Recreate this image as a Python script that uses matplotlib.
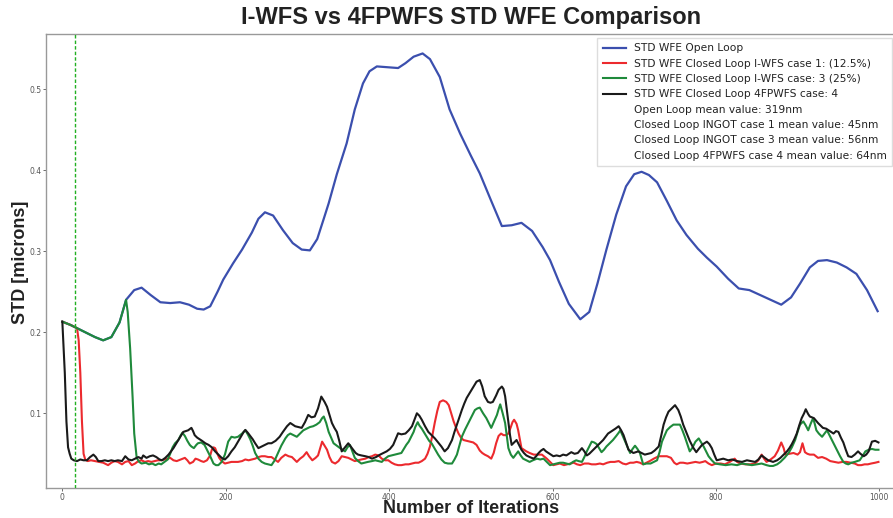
import matplotlib
matplotlib.use('Agg')
import matplotlib.pyplot as plt
import numpy as np

# open loop (smooth)
ol_x = [0, 10, 20, 30, 40, 50, 60, 70, 78, 88, 97, 108, 120, 132, 144, 155, 165, 173, 181, 190,
        197, 209, 220, 232, 240, 248, 258, 270, 282, 293, 303, 312, 320, 326, 336, 348, 358, 368,
        376, 385, 398, 411, 420, 430, 441, 450, 462, 474, 487, 500, 511, 525, 538, 550, 562, 575,
        588, 597, 608, 620, 634, 645, 655, 666, 678, 690, 700, 709, 718, 728, 740, 752, 764, 778,
        789, 801, 815, 828, 841, 854, 867, 880, 892, 903, 915, 925, 936, 948, 960, 972, 985, 998]
ol_y = [0.213, 0.209, 0.204, 0.199, 0.194, 0.190, 0.194, 0.212, 0.240, 0.252, 0.255, 0.246, 0.237,
        0.236, 0.237, 0.234, 0.229, 0.228, 0.232, 0.250, 0.265, 0.285, 0.302, 0.323, 0.340, 0.348,
        0.344, 0.326, 0.310, 0.302, 0.301, 0.315, 0.340, 0.359, 0.395, 0.433, 0.475, 0.507, 0.522,
        0.528, 0.527, 0.526, 0.532, 0.540, 0.544, 0.537, 0.515, 0.475, 0.445, 0.418, 0.396, 0.362,
        0.331, 0.332, 0.335, 0.325, 0.305, 0.289, 0.262, 0.235, 0.216, 0.225, 0.260, 0.302, 0.345,
        0.380, 0.395, 0.398, 0.394, 0.385, 0.362, 0.338, 0.320, 0.303, 0.292, 0.281, 0.266, 0.254,
        0.252, 0.246, 0.240, 0.234, 0.243, 0.260, 0.280, 0.288, 0.289, 0.286, 0.280, 0.272, 0.252,
        0.226]

# closed loop I-WFS case 1 (12.5%)
c1_x = [0, 10, 18, 20, 22, 24, 26, 28, 31, 35, 40, 45, 50, 54, 56, 60, 64, 68, 73, 77, 81, 85, 89,
        93, 97, 101, 105, 109, 113, 117, 121, 125, 129, 132, 136, 140, 145, 150, 153, 156, 160, 163,
        166, 170, 173, 177, 181, 183, 185, 187, 189, 192, 195, 199, 203, 207, 211, 215, 220, 224,
        228, 232, 236, 240, 244, 248, 252, 256, 260, 264, 268, 273, 277, 281, 284, 287, 291, 295,
        299, 302, 306, 310, 313, 316, 318, 321, 324, 327, 330, 334, 338, 342, 346, 350, 354, 358,
        362, 366, 371, 375, 379, 383, 387, 391, 395, 399, 403, 407, 411, 415, 420, 424, 428, 432,
        436, 440, 444, 447, 450, 453, 456, 459, 462, 466, 470, 473, 476, 479, 482, 485, 488, 491,
        495, 499, 503, 507, 511, 514, 517, 521, 525, 528, 531, 534, 537, 540, 543, 546, 549, 551,
        553, 556, 558, 560, 562, 565, 568, 572, 577, 582, 587, 593, 597, 601, 605, 609, 614, 618,
        622, 626, 630, 634, 639, 644, 648, 653, 658, 662, 667, 671, 676, 681, 686, 690, 695, 699,
        703, 707, 711, 715, 719, 724, 730, 735, 740, 745, 749, 752, 756, 760, 765, 770, 775, 780,
        784, 787, 791, 795, 800, 806, 811, 817, 823, 826, 830, 836, 842, 848, 852, 856, 859, 862,
        867, 872, 876, 880, 883, 885, 890, 895, 900, 903, 906, 909, 912, 915, 920, 925, 930, 935,
        940, 945, 950, 955, 960, 965, 970, 974, 978, 982, 986, 990, 995, 999]
c1_y = [0.213, 0.209, 0.205, 0.190, 0.150, 0.090, 0.050, 0.043, 0.041, 0.042, 0.041, 0.040, 0.039,
        0.037, 0.036, 0.039, 0.041, 0.040, 0.037, 0.040, 0.041, 0.036, 0.038, 0.041, 0.042, 0.040,
        0.041, 0.040, 0.041, 0.042, 0.042, 0.043, 0.044, 0.045, 0.042, 0.041, 0.043, 0.045, 0.042,
        0.038, 0.040, 0.044, 0.043, 0.041, 0.040, 0.042, 0.048, 0.055, 0.058, 0.057, 0.052, 0.045,
        0.041, 0.038, 0.039, 0.040, 0.040, 0.040, 0.041, 0.043, 0.042, 0.043, 0.044, 0.046, 0.047,
        0.047, 0.046, 0.046, 0.043, 0.040, 0.045, 0.049, 0.047, 0.046, 0.043, 0.040, 0.044, 0.047,
        0.052, 0.047, 0.042, 0.045, 0.048, 0.058, 0.065, 0.060, 0.055, 0.046, 0.040, 0.038, 0.041,
        0.047, 0.046, 0.045, 0.043, 0.041, 0.042, 0.043, 0.044, 0.046, 0.047, 0.049, 0.048, 0.044,
        0.042, 0.042, 0.039, 0.037, 0.036, 0.036, 0.037, 0.037, 0.038, 0.039, 0.039, 0.041, 0.044,
        0.050, 0.059, 0.073, 0.089, 0.103, 0.114, 0.116, 0.114, 0.110, 0.100, 0.090, 0.082, 0.075,
        0.070, 0.067, 0.066, 0.065, 0.064, 0.061, 0.054, 0.051, 0.049, 0.047, 0.044, 0.051, 0.063,
        0.072, 0.075, 0.073, 0.073, 0.075, 0.083, 0.089, 0.092, 0.087, 0.079, 0.068, 0.057, 0.055,
        0.053, 0.051, 0.049, 0.049, 0.049, 0.044, 0.040, 0.036, 0.037, 0.038, 0.036, 0.037, 0.038,
        0.039, 0.037, 0.036, 0.038, 0.038, 0.037, 0.037, 0.038, 0.037, 0.039, 0.040, 0.040, 0.041,
        0.038, 0.037, 0.039, 0.039, 0.040, 0.039, 0.037, 0.039, 0.041, 0.044, 0.047, 0.047, 0.047,
        0.045, 0.039, 0.037, 0.039, 0.039, 0.038, 0.039, 0.040, 0.039, 0.040, 0.041, 0.038, 0.036,
        0.038, 0.038, 0.037, 0.040, 0.044, 0.040, 0.038, 0.037, 0.037, 0.038, 0.042, 0.049, 0.044,
        0.040, 0.043, 0.047, 0.054, 0.064, 0.057, 0.049, 0.050, 0.051, 0.049, 0.052, 0.063, 0.052,
        0.050, 0.049, 0.049, 0.045, 0.046, 0.044, 0.041, 0.040, 0.039, 0.040, 0.040, 0.039, 0.038,
        0.036, 0.036, 0.037, 0.037, 0.038, 0.039, 0.040]

# closed loop I-WFS case 3 (25%)
c3_x = [0, 10, 20, 30, 40, 50, 60, 70, 78, 80, 83, 86, 88, 91, 94, 97, 102, 106, 110, 114, 118,
        121, 125, 129, 132, 135, 138, 142, 145, 147, 150, 153, 156, 158, 161, 164, 166, 170, 174,
        177, 181, 185, 188, 191, 195, 199, 203, 207, 211, 215, 220, 224, 227, 230, 233, 236, 240,
        244, 248, 252, 256, 260, 264, 268, 273, 276, 279, 283, 287, 291, 295, 299, 303, 307, 311,
        315, 318, 320, 323, 326, 329, 332, 336, 340, 343, 346, 349, 352, 355, 358, 362, 366, 370,
        374, 379, 383, 387, 391, 395, 399, 403, 407, 411, 415, 418, 421, 424, 427, 430, 432, 435,
        437, 440, 443, 446, 449, 452, 456, 460, 464, 468, 472, 477, 480, 483, 486, 489, 493, 497,
        501, 505, 508, 511, 515, 519, 522, 525, 528, 532, 534, 536, 539, 542, 544, 546, 549, 552,
        555, 558, 561, 564, 568, 572, 576, 581, 585, 589, 593, 597, 601, 605, 609, 613, 617, 621,
        625, 629, 632, 636, 639, 642, 645, 648, 651, 654, 657, 660, 663, 666, 670, 674, 678, 681,
        683, 686, 689, 692, 695, 698, 701, 704, 707, 709, 711, 715, 720, 724, 728, 731, 734, 737,
        740, 744, 748, 752, 756, 759, 762, 765, 768, 771, 775, 779, 782, 785, 788, 791, 795, 799,
        805, 812, 819, 826, 832, 838, 844, 850, 856, 862, 866, 870, 875, 879, 884, 889, 893, 897,
        900, 903, 907, 910, 913, 916, 919, 921, 923, 926, 930, 933, 936, 939, 942, 945, 948, 952,
        956, 959, 962, 966, 970, 973, 976, 980, 983, 987, 991, 995, 999]
c3_y = [0.213, 0.209, 0.204, 0.199, 0.194, 0.190, 0.194, 0.212, 0.240, 0.225, 0.180, 0.120, 0.075,
        0.045, 0.040, 0.038, 0.039, 0.037, 0.038, 0.036, 0.038, 0.037, 0.040, 0.043, 0.050, 0.058,
        0.063, 0.067, 0.073, 0.076, 0.072, 0.066, 0.061, 0.059, 0.057, 0.061, 0.063, 0.064, 0.061,
        0.055, 0.047, 0.038, 0.036, 0.036, 0.040, 0.049, 0.065, 0.071, 0.070, 0.071, 0.075, 0.079,
        0.074, 0.068, 0.060, 0.051, 0.044, 0.040, 0.038, 0.037, 0.036, 0.042, 0.051, 0.060, 0.069,
        0.073, 0.075, 0.073, 0.071, 0.075, 0.079, 0.081, 0.083, 0.084, 0.086, 0.089, 0.094, 0.096,
        0.088, 0.077, 0.070, 0.063, 0.060, 0.057, 0.055, 0.053, 0.058, 0.061, 0.053, 0.045, 0.041,
        0.038, 0.039, 0.040, 0.041, 0.042, 0.041, 0.040, 0.044, 0.047, 0.048, 0.049, 0.050, 0.051,
        0.056, 0.061, 0.065, 0.071, 0.077, 0.083, 0.089, 0.085, 0.081, 0.076, 0.071, 0.066, 0.063,
        0.056, 0.049, 0.043, 0.039, 0.038, 0.038, 0.043, 0.049, 0.060, 0.071, 0.080, 0.088, 0.096,
        0.104, 0.106, 0.107, 0.100, 0.094, 0.088, 0.082, 0.089, 0.098, 0.105, 0.111, 0.100, 0.088,
        0.072, 0.057, 0.049, 0.045, 0.049, 0.053, 0.048, 0.044, 0.042, 0.040, 0.042, 0.044, 0.043,
        0.044, 0.040, 0.036, 0.037, 0.038, 0.039, 0.039, 0.038, 0.037, 0.040, 0.042, 0.041, 0.040,
        0.046, 0.053, 0.059, 0.065, 0.064, 0.062, 0.057, 0.052, 0.055, 0.059, 0.063, 0.067, 0.072,
        0.076, 0.079, 0.072, 0.065, 0.058, 0.051, 0.056, 0.060, 0.056, 0.051, 0.044, 0.037, 0.038,
        0.038, 0.040, 0.042, 0.052, 0.065, 0.072, 0.079, 0.083, 0.086, 0.086, 0.086, 0.079, 0.071,
        0.062, 0.053, 0.057, 0.065, 0.069, 0.064, 0.059, 0.053, 0.047, 0.042, 0.038, 0.037, 0.036,
        0.037, 0.036, 0.038, 0.037, 0.036, 0.037, 0.038, 0.036, 0.035, 0.035, 0.037, 0.040, 0.045,
        0.051, 0.058, 0.067, 0.077, 0.086, 0.090, 0.085, 0.079, 0.087, 0.094, 0.087, 0.079, 0.075,
        0.071, 0.075, 0.079, 0.073, 0.067, 0.061, 0.055, 0.047, 0.040, 0.038, 0.037, 0.039, 0.040,
        0.041, 0.042, 0.048, 0.053, 0.055, 0.056, 0.055, 0.055]

# closed loop 4FPWFS case 4
c4_x = [0, 3, 5, 7, 9, 11, 14, 18, 22, 26, 30, 34, 38, 41, 44, 48, 52, 56, 60, 64, 68, 73, 77, 81,
        85, 89, 93, 97, 99, 103, 107, 111, 115, 119, 122, 126, 130, 133, 136, 139, 142, 145, 148,
        151, 154, 158, 160, 162, 165, 168, 171, 175, 179, 183, 187, 191, 195, 199, 203, 207, 211,
        215, 219, 222, 224, 227, 230, 233, 236, 240, 244, 248, 252, 256, 261, 266, 270, 275, 279,
        282, 285, 289, 293, 297, 301, 305, 309, 313, 317, 321, 324, 327, 330, 333, 336, 339, 342,
        346, 350, 353, 356, 359, 362, 366, 371, 375, 379, 384, 389, 393, 397, 401, 405, 408, 411,
        415, 420, 424, 428, 431, 434, 437, 440, 444, 448, 452, 456, 460, 464, 468, 472, 477, 480,
        483, 486, 489, 492, 495, 498, 501, 504, 507, 511, 514, 517, 521, 524, 527, 531, 534, 538,
        540, 542, 544, 546, 548, 550, 553, 556, 559, 562, 565, 568, 572, 577, 580, 583, 586, 589,
        592, 595, 598, 601, 605, 609, 613, 617, 620, 623, 627, 631, 636, 639, 642, 645, 648, 652,
        656, 659, 662, 665, 668, 671, 674, 677, 681, 684, 687, 690, 693, 696, 699, 702, 705, 709,
        713, 717, 721, 725, 730, 733, 736, 739, 742, 746, 750, 754, 757, 760, 764, 768, 772, 776,
        779, 783, 786, 789, 792, 795, 798, 801, 805, 809, 815, 820, 826, 832, 838, 843, 848, 852,
        856, 860, 864, 870, 875, 879, 883, 887, 890, 893, 896, 899, 902, 905, 908, 910, 913, 915,
        920, 925, 928, 931, 935, 938, 941, 944, 947, 950, 953, 956, 959, 962, 966, 970, 974, 977,
        981, 984, 987, 989, 991, 995, 999]
c4_y = [0.213, 0.150, 0.090, 0.058, 0.050, 0.044, 0.042, 0.041, 0.043, 0.042, 0.042, 0.046, 0.049,
        0.046, 0.041, 0.041, 0.042, 0.041, 0.042, 0.041, 0.042, 0.041, 0.047, 0.043, 0.042, 0.044,
        0.046, 0.044, 0.048, 0.045, 0.047, 0.048, 0.046, 0.043, 0.042, 0.045, 0.049, 0.053, 0.057,
        0.062, 0.067, 0.072, 0.077, 0.078, 0.079, 0.082, 0.078, 0.073, 0.070, 0.068, 0.066, 0.063,
        0.061, 0.058, 0.053, 0.049, 0.045, 0.043, 0.047, 0.053, 0.058, 0.065, 0.072, 0.077, 0.0795,
        0.076, 0.072, 0.068, 0.063, 0.057, 0.059, 0.061, 0.063, 0.063, 0.066, 0.071, 0.077, 0.084,
        0.088, 0.086, 0.084, 0.083, 0.082, 0.089, 0.098, 0.095, 0.096, 0.106, 0.1206, 0.114, 0.108,
        0.098, 0.088, 0.082, 0.077, 0.066, 0.053, 0.058, 0.063, 0.059, 0.055, 0.051, 0.049, 0.048,
        0.047, 0.046, 0.044, 0.046, 0.049, 0.051, 0.053, 0.056, 0.061, 0.068, 0.0753, 0.074, 0.075,
        0.079, 0.084, 0.092, 0.100, 0.097, 0.092, 0.084, 0.077, 0.073, 0.069, 0.064, 0.059, 0.053,
        0.057, 0.067, 0.077, 0.086, 0.095, 0.104, 0.112, 0.119, 0.124, 0.129, 0.134, 0.139, 0.141,
        0.133, 0.121, 0.114, 0.113, 0.114, 0.122, 0.129, 0.133, 0.130, 0.121, 0.105, 0.088, 0.073,
        0.061, 0.064, 0.067, 0.061, 0.055, 0.051, 0.048, 0.046, 0.044, 0.047, 0.051, 0.054, 0.056,
        0.053, 0.051, 0.049, 0.047, 0.048, 0.047, 0.049, 0.048, 0.050, 0.052, 0.050, 0.051, 0.057,
        0.053, 0.048, 0.050, 0.053, 0.057, 0.061, 0.064, 0.067, 0.071, 0.075, 0.077, 0.079, 0.081,
        0.084, 0.079, 0.073, 0.064, 0.055, 0.053, 0.051, 0.052, 0.053, 0.051, 0.049, 0.050, 0.051,
        0.054, 0.059, 0.072, 0.086, 0.095, 0.102, 0.106, 0.110, 0.104, 0.096, 0.086, 0.076, 0.066,
        0.058, 0.052, 0.056, 0.061, 0.063, 0.065, 0.062, 0.057, 0.049, 0.042, 0.043, 0.044, 0.042,
        0.043, 0.041, 0.040, 0.042, 0.041, 0.040, 0.043, 0.048, 0.045, 0.042, 0.040, 0.042, 0.045,
        0.049, 0.053, 0.057, 0.062, 0.068, 0.075, 0.085, 0.094, 0.100, 0.105, 0.099, 0.096, 0.094,
        0.088, 0.085, 0.082, 0.081, 0.079, 0.077, 0.075, 0.078, 0.077, 0.070, 0.064, 0.055, 0.047,
        0.046, 0.049, 0.053, 0.050, 0.047, 0.049, 0.053, 0.059, 0.065, 0.066, 0.064]

vline_x = 15

legend_labels = ['STD WFE Open Loop',
                 'STD WFE Closed Loop I-WFS case 1: (12.5%)',
                 'STD WFE Closed Loop I-WFS case: 3 (25%)',
                 'STD WFE Closed Loop 4FPWFS case: 4']
mean_labels = ['Open Loop mean value: 319nm',
               'Closed Loop INGOT case 1 mean value: 45nm',
               'Closed Loop INGOT case 3 mean value: 56nm',
               'Closed Loop 4FPWFS case 4 mean value: 64nm']

colors = ['#3b4fae', '#ec2a2e', '#1f8a3b', '#1a1a1a']

fig = plt.figure(figsize=(8.93, 5.18), dpi=100)
ax = fig.add_axes([46/893, 1 - 488/518, 1 - 46/893, (488 - 34)/518])

ax.plot(ol_x, ol_y, color=colors[0], lw=1.6, label=legend_labels[0])
ax.plot(c1_x, c1_y, color=colors[1], lw=1.5, label=legend_labels[1])
ax.plot(c3_x, c3_y, color=colors[2], lw=1.5, label=legend_labels[2])
ax.plot(c4_x, c4_y, color=colors[3], lw=1.5, label=legend_labels[3])
for lab in mean_labels:
    ax.plot([], [], ' ', label=lab)
# dashed marker line
ax.axvline(vline_x, color='#22b022', lw=1.0, ls=(0, (2.5, 1.5)), zorder=3)

ax.set_xlim(-20, 1016.8)
ax.set_ylim(0.0078, 0.568)
ax.set_xticks([0, 200, 400, 600, 800, 1000])
ax.set_yticks([0.1, 0.2, 0.3, 0.4, 0.5])
ax.tick_params(labelsize=5.5, length=2, width=0.6, colors='#555555', pad=1.5)
for s in ['left', 'top', 'bottom']:
    ax.spines[s].set_color('#999999')
    ax.spines[s].set_linewidth(1.0)
ax.spines['right'].set_visible(False)

fig.text(0.5277, 0.967, 'I-WFS vs 4FPWFS STD WFE Comparison', ha='center', va='center',
         fontsize=17, fontweight='bold', family='Liberation Sans', color='#222222')
fig.text(0.5277, 0.0175, 'Number of Iterations', ha='center', va='center',
         fontsize=13, fontweight='bold', family='Liberation Sans', color='#222222')
fig.text(0.023, 1 - 262/518, 'STD [microns]', ha='center', va='center', rotation=90,
         fontsize=13, fontweight='bold', family='Liberation Sans', color='#222222')

leg = ax.legend(loc='upper right', bbox_to_anchor=(892/893, 1 - 38/518),
                bbox_transform=fig.transFigure, borderaxespad=0, fontsize=7.7,
                labelspacing=0.5, borderpad=0.5, handlelength=2.15, handletextpad=0.75,
                fancybox=False, framealpha=1, edgecolor='#dddddd')
leg.set_zorder(5)
for t in leg.get_texts():
    t.set_color('#222222')

fig.savefig('out.png', dpi=100)
